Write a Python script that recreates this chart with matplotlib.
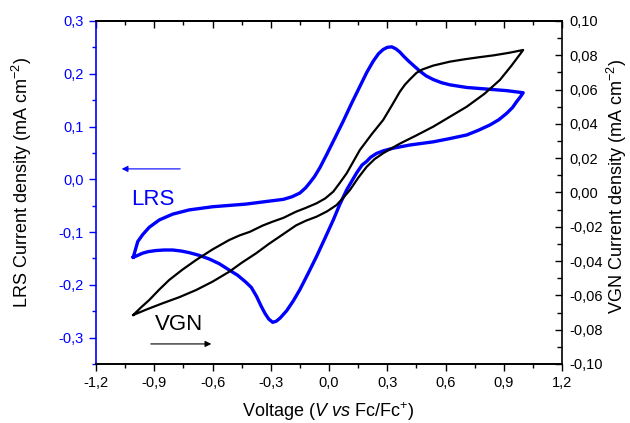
import numpy as np
import matplotlib
matplotlib.use("Agg")
import matplotlib.pyplot as plt
from matplotlib.ticker import MultipleLocator, FuncFormatter

plt.rcParams['font.family'] = ['Liberation Sans', 'DejaVu Sans']
plt.rcParams['mathtext.fontset'] = 'custom'
plt.rcParams['mathtext.rm'] = 'Liberation Sans'
plt.rcParams['mathtext.it'] = 'Liberation Sans:italic'
plt.rcParams['axes.unicode_minus'] = False

BLUE = '#0000ff'

# LRS cyclic voltammogram (left axis, mA cm-2): anodic sweep then cathodic sweep
lrs_v = [-1.008, -0.985, -0.960, -0.926, -0.874, -0.805, -0.720, -0.599, -0.428, -0.300,
         -0.235, -0.190, -0.150, -0.120, -0.098, -0.075, -0.047, -0.012, 0.030, 0.073,
         0.115, 0.159, 0.195, 0.228, 0.255, 0.279, 0.300, 0.323, 0.345, 0.365,
         0.385, 0.410, 0.440, 0.468, 0.500, 0.537, 0.580, 0.623, 0.709, 0.812,
         0.915, 1.000,
         0.985, 0.966, 0.945, 0.915, 0.875, 0.829, 0.770, 0.709, 0.620, 0.537,
         0.417, 0.331, 0.280, 0.245, 0.215, 0.194, 0.170, 0.142, 0.091, 0.055,
         0.022, -0.020, -0.064, -0.107, -0.150, -0.185, -0.218, -0.252, -0.272, -0.290,
         -0.310, -0.330, -0.350, -0.373, -0.400, -0.428, -0.470, -0.514, -0.565, -0.617,
         -0.670, -0.720, -0.760, -0.805, -0.850, -0.891, -0.930, -0.960, -0.990, -1.008]
lrs_j = [-0.1475, -0.118, -0.105, -0.091, -0.077, -0.066, -0.058, -0.052, -0.047, -0.041,
         -0.038, -0.033, -0.026, -0.016, -0.006, 0.005, 0.022, 0.047, 0.078, 0.110,
         0.143, 0.176, 0.203, 0.224, 0.238, 0.246, 0.250, 0.251, 0.247, 0.241,
         0.233, 0.224, 0.214, 0.205, 0.196, 0.189, 0.183, 0.179, 0.174, 0.171,
         0.168, 0.164,
         0.156, 0.147, 0.136, 0.125, 0.113, 0.103, 0.093, 0.084, 0.077, 0.071,
         0.065, 0.059, 0.054, 0.049, 0.042, 0.034, 0.027, 0.012, -0.020, -0.048,
         -0.077, -0.111, -0.146, -0.178, -0.209, -0.231, -0.249, -0.263, -0.269, -0.271,
         -0.265, -0.254, -0.240, -0.222, -0.205, -0.195, -0.182, -0.172, -0.160, -0.151,
         -0.144, -0.139, -0.136, -0.134, -0.134, -0.135, -0.137, -0.140, -0.145, -0.1475]

# VGN cyclic voltammogram (right axis, mA cm-2)
vgn_v = [-1.008, -0.970, -0.926, -0.875, -0.823, -0.755, -0.685, -0.600, -0.514, -0.460,
         -0.407, -0.342, -0.290, -0.235, -0.170, -0.120, -0.064, -0.020, 0.022, 0.055,
         0.091, 0.125, 0.159, 0.220, 0.279, 0.325, 0.365, 0.392, 0.417, 0.450,
         0.480, 0.537, 0.623, 0.700, 0.769, 0.850, 0.930, 1.000,
         0.940, 0.880, 0.800, 0.709, 0.620, 0.537, 0.450, 0.365, 0.279, 0.235,
         0.194, 0.150, 0.108, 0.070, 0.039, -0.010, -0.064, -0.120, -0.170, -0.245,
         -0.310, -0.376, -0.450, -0.514, -0.600, -0.685, -0.770, -0.857, -0.935, -1.008]
vgn_j = [-0.0714, -0.0672, -0.0627, -0.0567, -0.0510, -0.0450, -0.0394, -0.0332, -0.0277, -0.0250,
         -0.0229, -0.0193, -0.0170, -0.0148, -0.0112, -0.0090, -0.0063, -0.0035, 0.0005, 0.0055,
         0.0112, 0.0180, 0.0248, 0.0340, 0.0423, 0.0510, 0.0588, 0.0630, 0.0660, 0.0697,
         0.0717, 0.0740, 0.0763, 0.0777, 0.0788, 0.0800, 0.0815, 0.0831,
         0.0740, 0.0656, 0.0575, 0.0500, 0.0440, 0.0384, 0.0333, 0.0285, 0.0229, 0.0195,
         0.0150, 0.0085, 0.0015, -0.0035, -0.0073, -0.0110, -0.0141, -0.0165, -0.0192, -0.0250,
         -0.0300, -0.0355, -0.0410, -0.0462, -0.0520, -0.0569, -0.0610, -0.0646, -0.0680, -0.0714]


def comma(fmt):
    return FuncFormatter(lambda v, pos: (fmt % (round(v, 6) + 0.0)).replace('.', ','))


fig = plt.figure(figsize=(6.3, 4.23), dpi=100)
ax = fig.add_axes([0.1524, 0.1395, 0.7397, 0.8109])
ax2 = ax.twinx()

ax.plot(lrs_v, lrs_j, color=BLUE, lw=2.4, solid_joinstyle='round', zorder=3)
ax2.plot(vgn_v, vgn_j, color='black', lw=1.6, solid_joinstyle='round')

ax.set_xlim(-1.2, 1.2)
ax.set_ylim(-0.35, 0.3)
ax2.set_ylim(-0.1, 0.1)

ax.xaxis.set_major_locator(MultipleLocator(0.3))
ax.xaxis.set_minor_locator(MultipleLocator(0.15))
ax.xaxis.set_major_formatter(comma('%.1f'))
ax.yaxis.set_major_locator(MultipleLocator(0.1))
ax.yaxis.set_minor_locator(MultipleLocator(0.05))
ax.yaxis.set_major_formatter(comma('%.1f'))
ax2.yaxis.set_major_locator(MultipleLocator(0.02))
ax2.yaxis.set_minor_locator(MultipleLocator(0.01))
ax2.yaxis.set_major_formatter(comma('%.2f'))

for a in (ax, ax2):
    for s in a.spines.values():
        s.set_linewidth(1.2)
ax.spines['left'].set_color(BLUE)
ax2.spines['left'].set_visible(False)
ax.spines['right'].set_visible(False)

ax.tick_params(axis='x', which='both', direction='out', top=False, labelsize=10.5, pad=4, width=1)
ax.tick_params(axis='x', which='major', length=5)
ax.tick_params(axis='x', which='minor', length=3)
ax.tick_params(axis='y', which='both', direction='out', colors=BLUE, labelsize=10.5, pad=4, width=1)
ax.tick_params(axis='y', which='major', length=5)
ax.tick_params(axis='y', which='minor', length=3)
ax2.tick_params(axis='y', which='both', direction='in', labelsize=10.5, pad=5, width=1)
ax2.tick_params(axis='y', which='major', length=5)
ax2.tick_params(axis='y', which='minor', length=3.5)

# inward ticks along the top edge
top = ax.secondary_xaxis('top')
top.xaxis.set_major_locator(MultipleLocator(0.3))
top.xaxis.set_minor_locator(MultipleLocator(0.15))
top.tick_params(which='both', direction='in', labeltop=False, width=1)
top.tick_params(which='major', length=5)
top.tick_params(which='minor', length=3)
top.spines['top'].set_linewidth(1.2)

ax.set_xlabel(r'Voltage ($\mathit{V}$ $\mathit{vs}$ Fc/Fc$^{+}$)', fontsize=13)
ax.xaxis.label.set_va('baseline')
ax.xaxis.set_label_coords(0.498, -0.155)
ax.set_ylabel(r'LRS Current density (mA cm$^{-2}$)', fontsize=13)
ax.yaxis.set_label_coords(-0.133, 0.529)
ax2.set_ylabel(r'VGN Current density (mA cm$^{-2}$)', fontsize=13)
ax2.yaxis.set_label_coords(1.092, 0.517)

ax.annotate('', xy=(-1.082, 0.0197), xytext=(-0.752, 0.0197),
            arrowprops=dict(arrowstyle='-|>', color=BLUE, lw=0.8, mutation_scale=9))
ax.annotate('', xy=(-0.592, -0.312), xytext=(-0.932, -0.312),
            arrowprops=dict(arrowstyle='-|>', color='black', lw=0.8, mutation_scale=9))
ax.text(-1.02, -0.0485, 'LRS', color=BLUE, fontsize=16, va='baseline')
ax.text(-0.896, -0.285, 'VGN', color='black', fontsize=16, va='baseline')

fig.savefig('out.png', dpi=100)
